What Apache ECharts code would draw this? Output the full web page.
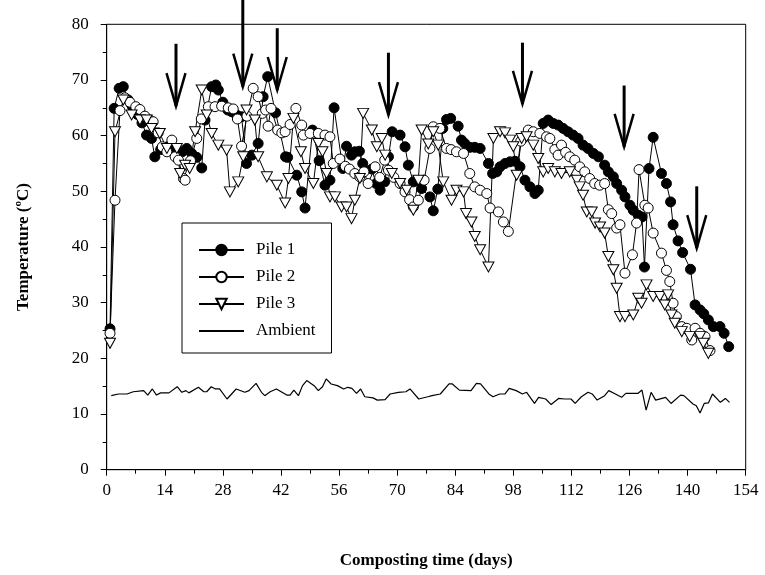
<!DOCTYPE html>
<html><head><meta charset="utf-8">
<script src="https://cdn.jsdelivr.net/npm/echarts@6/dist/echarts.min.js"></script>
<style>html,body{margin:0;padding:0;background:#fff}#c{width:765px;height:575px}</style>
</head><body><div id="c"></div>
<script>
// ---- data ----
const pile1 = [[0.8,25.3],[1.8,64.9],[3.0,68.5],[4.0,68.8],[5.2,66.4],[6.3,65.2],[7.4,63.8],[8.5,62.3],[9.6,60.1],[10.8,59.5],[11.6,56.2],[13.0,57.5],[14.7,58.0],[15.8,57.6],[16.9,57.4],[18.2,57.1],[19.3,57.7],[20.5,56.8],[21.7,56.1],[22.9,54.2],[23.7,62.8],[25.3,68.8],[26.3,69.1],[26.9,68.2],[28.0,66.0],[29.2,64.6],[30.1,64.3],[31.3,63.7],[32.5,63.4],[33.7,55.0],[35.0,56.5],[36.5,58.6],[37.7,67.0],[38.8,70.6],[40.7,64.1],[43.1,56.2],[43.6,56.1],[45.8,52.9],[47.0,49.9],[47.8,47.0],[49.6,61.0],[51.2,55.5],[52.6,51.1],[53.8,52.0],[54.8,65.0],[56.9,54.1],[57.8,58.1],[59.0,56.5],[59.8,57.1],[60.9,57.2],[61.7,55.0],[63.9,54.0],[64.9,51.4],[65.9,50.2],[67.0,51.7],[67.9,56.2],[68.8,60.7],[70.7,60.1],[71.9,58.0],[72.7,54.7],[73.9,51.7],[75.9,50.5],[77.9,49.0],[78.7,46.5],[79.8,50.4],[81.0,61.3],[81.9,62.9],[82.9,63.1],[84.7,61.7],[85.5,59.2],[86.3,58.6],[87.5,57.9],[88.7,57.9],[90.0,57.7],[92.0,55.0],[93.0,53.2],[94.0,53.5],[94.8,54.4],[96.0,55.0],[97.2,55.3],[98.4,55.4],[99.6,54.4],[100.8,52.0],[102.0,50.8],[103.2,49.6],[104.0,50.2],[105.2,62.2],[106.4,62.8],[107.6,62.2],[108.8,61.9],[110.0,61.3],[111.2,60.7],[112.4,60.1],[113.6,59.5],[114.8,58.3],[116.0,57.7],[117.3,56.8],[118.5,56.2],[120.0,54.7],[120.9,53.5],[122.1,52.6],[122.9,51.4],[124.1,50.2],[124.9,49.0],[126.1,47.5],[126.9,46.6],[128.1,45.7],[129.0,45.4],[129.6,36.4],[130.7,54.1],[131.7,59.7],[133.7,53.2],[134.9,51.4],[135.9,48.1],[136.5,44.0],[137.7,41.1],[138.8,39.0],[140.7,36.0],[141.8,29.6],[143.0,28.7],[143.9,28.0],[145.0,26.9],[146.2,25.7],[147.8,25.7],[148.8,24.5],[149.9,22.1]];

const pile2 = [[0.8,24.5],[2.0,48.4],[3.2,64.5],[4.4,66.8],[5.6,66.0],[7.0,65.2],[8.0,64.7],[9.2,63.5],[10.4,62.8],[11.2,62.5],[12.4,60.5],[13.4,58.0],[14.5,57.1],[15.7,59.2],[16.5,56.2],[17.3,55.6],[18.5,52.3],[18.9,52.0],[20.2,55.5],[21.7,59.5],[22.8,63.0],[24.5,65.2],[26.1,65.2],[27.7,65.3],[29.3,65.0],[30.5,64.8],[31.5,63.0],[32.5,58.1],[33.8,63.5],[35.3,68.5],[36.5,67.0],[37.5,64.0],[38.3,64.6],[38.9,61.7],[39.6,64.9],[41.2,61.0],[42.2,60.5],[43.0,60.7],[44.2,62.0],[45.6,64.9],[47.0,61.9],[47.4,60.1],[49.0,60.4],[51.0,60.4],[52.6,60.1],[53.8,59.8],[54.6,55.0],[56.2,55.8],[57.5,54.5],[58.5,54.0],[59.8,53.2],[61.0,52.6],[62.0,53.5],[63.0,51.4],[64.7,54.4],[65.8,52.5],[67.0,55.6],[67.9,53.8],[69.2,52.5],[70.7,51.4],[71.9,49.9],[73.0,48.5],[73.9,47.2],[75.1,48.4],[76.5,52.0],[77.9,57.7],[78.7,61.6],[80.3,61.3],[81.9,57.7],[83.0,57.5],[84.3,57.1],[86.0,56.8],[87.5,53.2],[88.7,50.8],[90.0,50.2],[91.6,49.6],[92.4,47.0],[94.4,46.3],[95.6,44.5],[96.8,42.8],[99.8,59.0],[101.6,61.0],[102.8,60.7],[104.4,60.4],[106.0,59.8],[106.8,59.5],[108.0,57.5],[108.8,56.5],[109.6,58.3],[110.6,57.0],[111.6,56.2],[112.8,55.6],[114.0,54.4],[115.2,53.5],[116.4,52.3],[117.6,51.4],[118.8,51.1],[120.0,51.4],[120.9,46.7],[121.7,46.0],[122.9,43.4],[123.7,44.0],[124.9,35.3],[126.7,38.6],[127.7,44.3],[128.3,53.9],[129.7,47.5],[130.5,47.0],[131.7,42.5],[133.7,38.9],[134.9,35.8],[135.7,33.8],[136.5,29.9],[137.3,27.5],[138.6,25.7],[139.8,25.4],[141.0,23.3],[141.8,25.4],[143.0,24.5],[144.2,23.9],[145.4,21.4]];

const pile3 = [[0.8,22.7],[2.0,60.7],[4.0,66.4],[6.0,63.7],[8.0,62.8],[9.6,62.8],[10.8,61.3],[12.8,60.4],[14.5,57.7],[16.9,57.7],[17.7,53.2],[18.9,54.7],[20.0,54.1],[21.3,60.7],[22.9,68.2],[24.1,63.7],[25.3,60.4],[26.9,58.3],[28.9,57.4],[29.7,49.9],[31.7,51.7],[32.9,56.2],[33.7,64.6],[35.7,62.8],[36.5,56.2],[38.6,52.6],[41.0,51.1],[43.0,47.9],[43.8,52.3],[45.0,63.1],[46.8,57.1],[47.8,54.1],[49.8,51.4],[51.0,58.6],[52.0,57.1],[53.0,53.2],[53.8,49.0],[55.0,49.0],[56.6,47.2],[57.8,47.2],[59.0,45.1],[59.8,48.4],[61.0,52.3],[61.8,64.0],[63.9,61.0],[65.1,58.0],[66.3,59.5],[67.1,56.5],[68.7,53.2],[70.7,51.4],[72.3,50.2],[73.9,46.6],[75.1,52.0],[75.9,61.0],[77.5,58.5],[78.7,60.7],[79.9,58.3],[81.1,51.7],[83.1,48.4],[84.3,50.2],[86.0,49.9],[86.6,46.0],[87.9,44.5],[88.7,41.9],[90.0,39.5],[92.0,36.4],[93.2,59.5],[94.8,60.7],[96.0,60.5],[97.2,59.2],[98.0,58.0],[98.8,52.9],[100.0,59.5],[101.2,59.8],[102.8,58.3],[104.0,55.9],[105.2,53.5],[106.4,54.1],[108.0,53.5],[109.6,53.2],[111.6,53.5],[113.3,52.0],[114.0,50.8],[114.8,49.3],[115.7,46.3],[116.9,46.3],[117.7,44.3],[118.9,43.6],[120.0,42.5],[120.9,38.3],[122.1,35.9],[122.9,32.6],[123.7,27.5],[124.9,27.5],[126.9,27.8],[128.1,30.8],[128.9,29.9],[130.1,33.2],[131.7,31.1],[133.3,31.1],[134.5,29.6],[135.3,31.4],[136.1,27.8],[136.9,26.3],[138.6,24.8],[140.5,23.9],[143.0,23.9],[143.8,22.7],[145.0,20.9]];

const ambient = [[1.1,13.3],[2.8,13.6],[4.9,13.6],[6.4,14.0],[8.9,14.2],[9.9,13.4],[11.0,14.5],[12.0,13.4],[13.0,13.8],[15.0,13.8],[17.0,14.9],[18.1,13.9],[19.1,14.2],[19.8,13.8],[22.1,14.8],[23.4,14.0],[24.1,14.0],[25.2,14.9],[26.2,14.5],[27.2,14.5],[29.0,12.7],[31.2,14.5],[33.3,13.9],[34.3,14.2],[36.0,15.5],[37.3,13.9],[38.1,13.3],[39.4,14.0],[40.9,14.5],[43.4,13.4],[44.2,13.4],[45.1,14.3],[46.2,13.3],[47.2,15.1],[48.2,16.0],[50.0,15.1],[51.0,14.2],[52.0,14.9],[52.9,16.3],[54.1,15.4],[55.6,15.1],[57.1,14.5],[58.1,14.8],[59.1,14.6],[60.2,13.7],[61.2,14.5],[62.2,13.1],[64.2,12.9],[65.2,12.5],[67.1,12.6],[68.3,13.6],[70.3,13.9],[72.1,14.0],[73.1,14.5],[75.2,12.7],[77.4,13.1],[78.4,13.3],[80.4,13.6],[82.5,15.4],[83.3,15.4],[85.0,14.3],[87.8,14.2],[89.1,15.5],[90.1,15.4],[92.1,13.6],[93.1,13.1],[94.7,13.6],[96.0,13.6],[97.0,14.6],[98.7,14.2],[100.2,13.6],[101.2,13.9],[103.1,11.9],[104.1,13.0],[105.8,12.7],[107.1,11.7],[108.9,12.8],[110.4,12.7],[111.9,12.7],[112.9,11.9],[114.4,13.1],[116.0,13.9],[117.0,13.6],[118.2,12.5],[120.0,13.3],[121.0,14.2],[122.6,13.6],[124.1,13.0],[125.1,13.7],[128.0,13.7],[129.0,14.3],[130.0,10.7],[131.2,13.9],[132.3,12.5],[134.7,13.0],[136.0,11.9],[138.3,13.4],[139.1,13.3],[141.3,11.8],[142.1,11.5],[143.0,10.2],[144.0,11.9],[145.0,12.0],[146.0,13.6],[147.9,12.1],[149.1,12.8],[150.1,12.1]];

const arrowDays = [16.7, 32.8, 41.1, 67.9, 100.2, 124.7, 142.2];
const arrowTops = [76.5, 84.4, 79.3, 74.9, 76.7, 69.0, 50.9];
const arrowTips = [65.3, 68.8, 68.2, 63.7, 65.7, 58.0, 39.8];

const seriesNames = ['Pile 1', 'Pile 2', 'Pile 3', 'Ambient'];
const xMin = 0, xMax = 154, xStep = 14;
const yMin = 0, yMax = 80, yStep = 10;
const xTitle = 'Composting time (days)';
const yTitle = 'Temperature (\u00baC)';

// ---- chart ----
const FONT = 'Liberation Serif, "Times New Roman", serif';
const chart = echarts.init(document.getElementById('c'), null, {renderer: 'canvas'});
const axisCommon = {
  axisLine: {show: true, lineStyle: {color: '#000', width: 1}},
  axisTick: {show: true, inside: false, length: 6, lineStyle: {color: '#000'}},
  minorTick: {show: true, splitNumber: 2, length: 4, lineStyle: {color: '#000'}},
  splitLine: {show: false},
  minorSplitLine: {show: false},
  nameTextStyle: {fontFamily: FONT, fontSize: 17, fontWeight: 'bold', color: '#000'}
};
const triPath = 'path://M0,0L10,0L5,9Z';
chart.setOption({
  animation: false,
  backgroundColor: '#fff',
  grid: {left: 106.7, right: 19.3, top: 24.3, bottom: 105.3, show: true, borderColor: '#000', borderWidth: 1},
  xAxis: Object.assign({}, axisCommon, {
    type: 'value', min: xMin, max: xMax, interval: xStep,
    name: xTitle, nameLocation: 'middle', nameGap: 82,
    axisLabel: {fontFamily: FONT, fontSize: 17, color: '#000', margin: 12}
  }),
  yAxis: Object.assign({}, axisCommon, {
    type: 'value', min: yMin, max: yMax, interval: yStep,
    name: yTitle, nameLocation: 'middle', nameGap: 75, nameRotate: 90,
    axisLabel: {fontFamily: FONT, fontSize: 17, color: '#000', margin: 18}
  }),
  legend: {
    data: [
      {name: seriesNames[0]},
      {name: seriesNames[1]},
      {name: seriesNames[2]},
      {name: seriesNames[3], itemStyle: {opacity: 0}}
    ],
    orient: 'vertical', left: 182, top: 223,
    padding: [18, 16, 13, 16], itemGap: 9, itemWidth: 45, itemHeight: 13,
    borderColor: '#000', borderWidth: 1, backgroundColor: '#fff',
    textStyle: {fontFamily: FONT, fontSize: 17, color: '#000', lineHeight: 18, padding: [0, 0, 0, 7]}
  },
  series: [
    {name: seriesNames[0], type: 'line', data: pile1, symbol: 'circle', symbolSize: 10,
     lineStyle: {color: '#000', width: 1}, itemStyle: {color: '#000', borderColor: '#000', borderWidth: 1}},
    {name: seriesNames[1], type: 'line', data: pile2, symbol: 'circle', symbolSize: 10,
     lineStyle: {color: '#000', width: 1}, itemStyle: {color: '#fff', borderColor: '#000', borderWidth: 1}},
    {name: seriesNames[2], type: 'line', data: pile3, symbol: triPath, symbolSize: [11, 10],
     lineStyle: {color: '#000', width: 1}, itemStyle: {color: '#fff', borderColor: '#000', borderWidth: 1}},
    {name: seriesNames[3], type: 'line', data: ambient, symbol: 'none', showSymbol: false,
     lineStyle: {color: '#000', width: 1.2}, itemStyle: {color: '#000'}},
    {type: 'custom', name: 'arrows', clip: false, z: 5,
     data: arrowDays.map((d, i) => [d, arrowTops[i], arrowTips[i]]),
     encode: {x: 0, y: [1, 2]},
     renderItem: function (params, api) {
       const top = api.coord([api.value(0), api.value(1)]);
       const tip = api.coord([api.value(0), api.value(2)]);
       return {type: 'group', children: [
         {type: 'line', shape: {x1: top[0], y1: top[1], x2: tip[0], y2: tip[1]}, style: {stroke: '#000', lineWidth: 3}},
         {type: 'polyline', shape: {points: [[tip[0] - 9.5, tip[1] - 33], [tip[0], tip[1]], [tip[0] + 9.5, tip[1] - 33]]},
          style: {stroke: '#000', lineWidth: 2.5, fill: null, lineJoin: 'miter'}}
       ]};
     }}
  ]
});
</script></body></html>
